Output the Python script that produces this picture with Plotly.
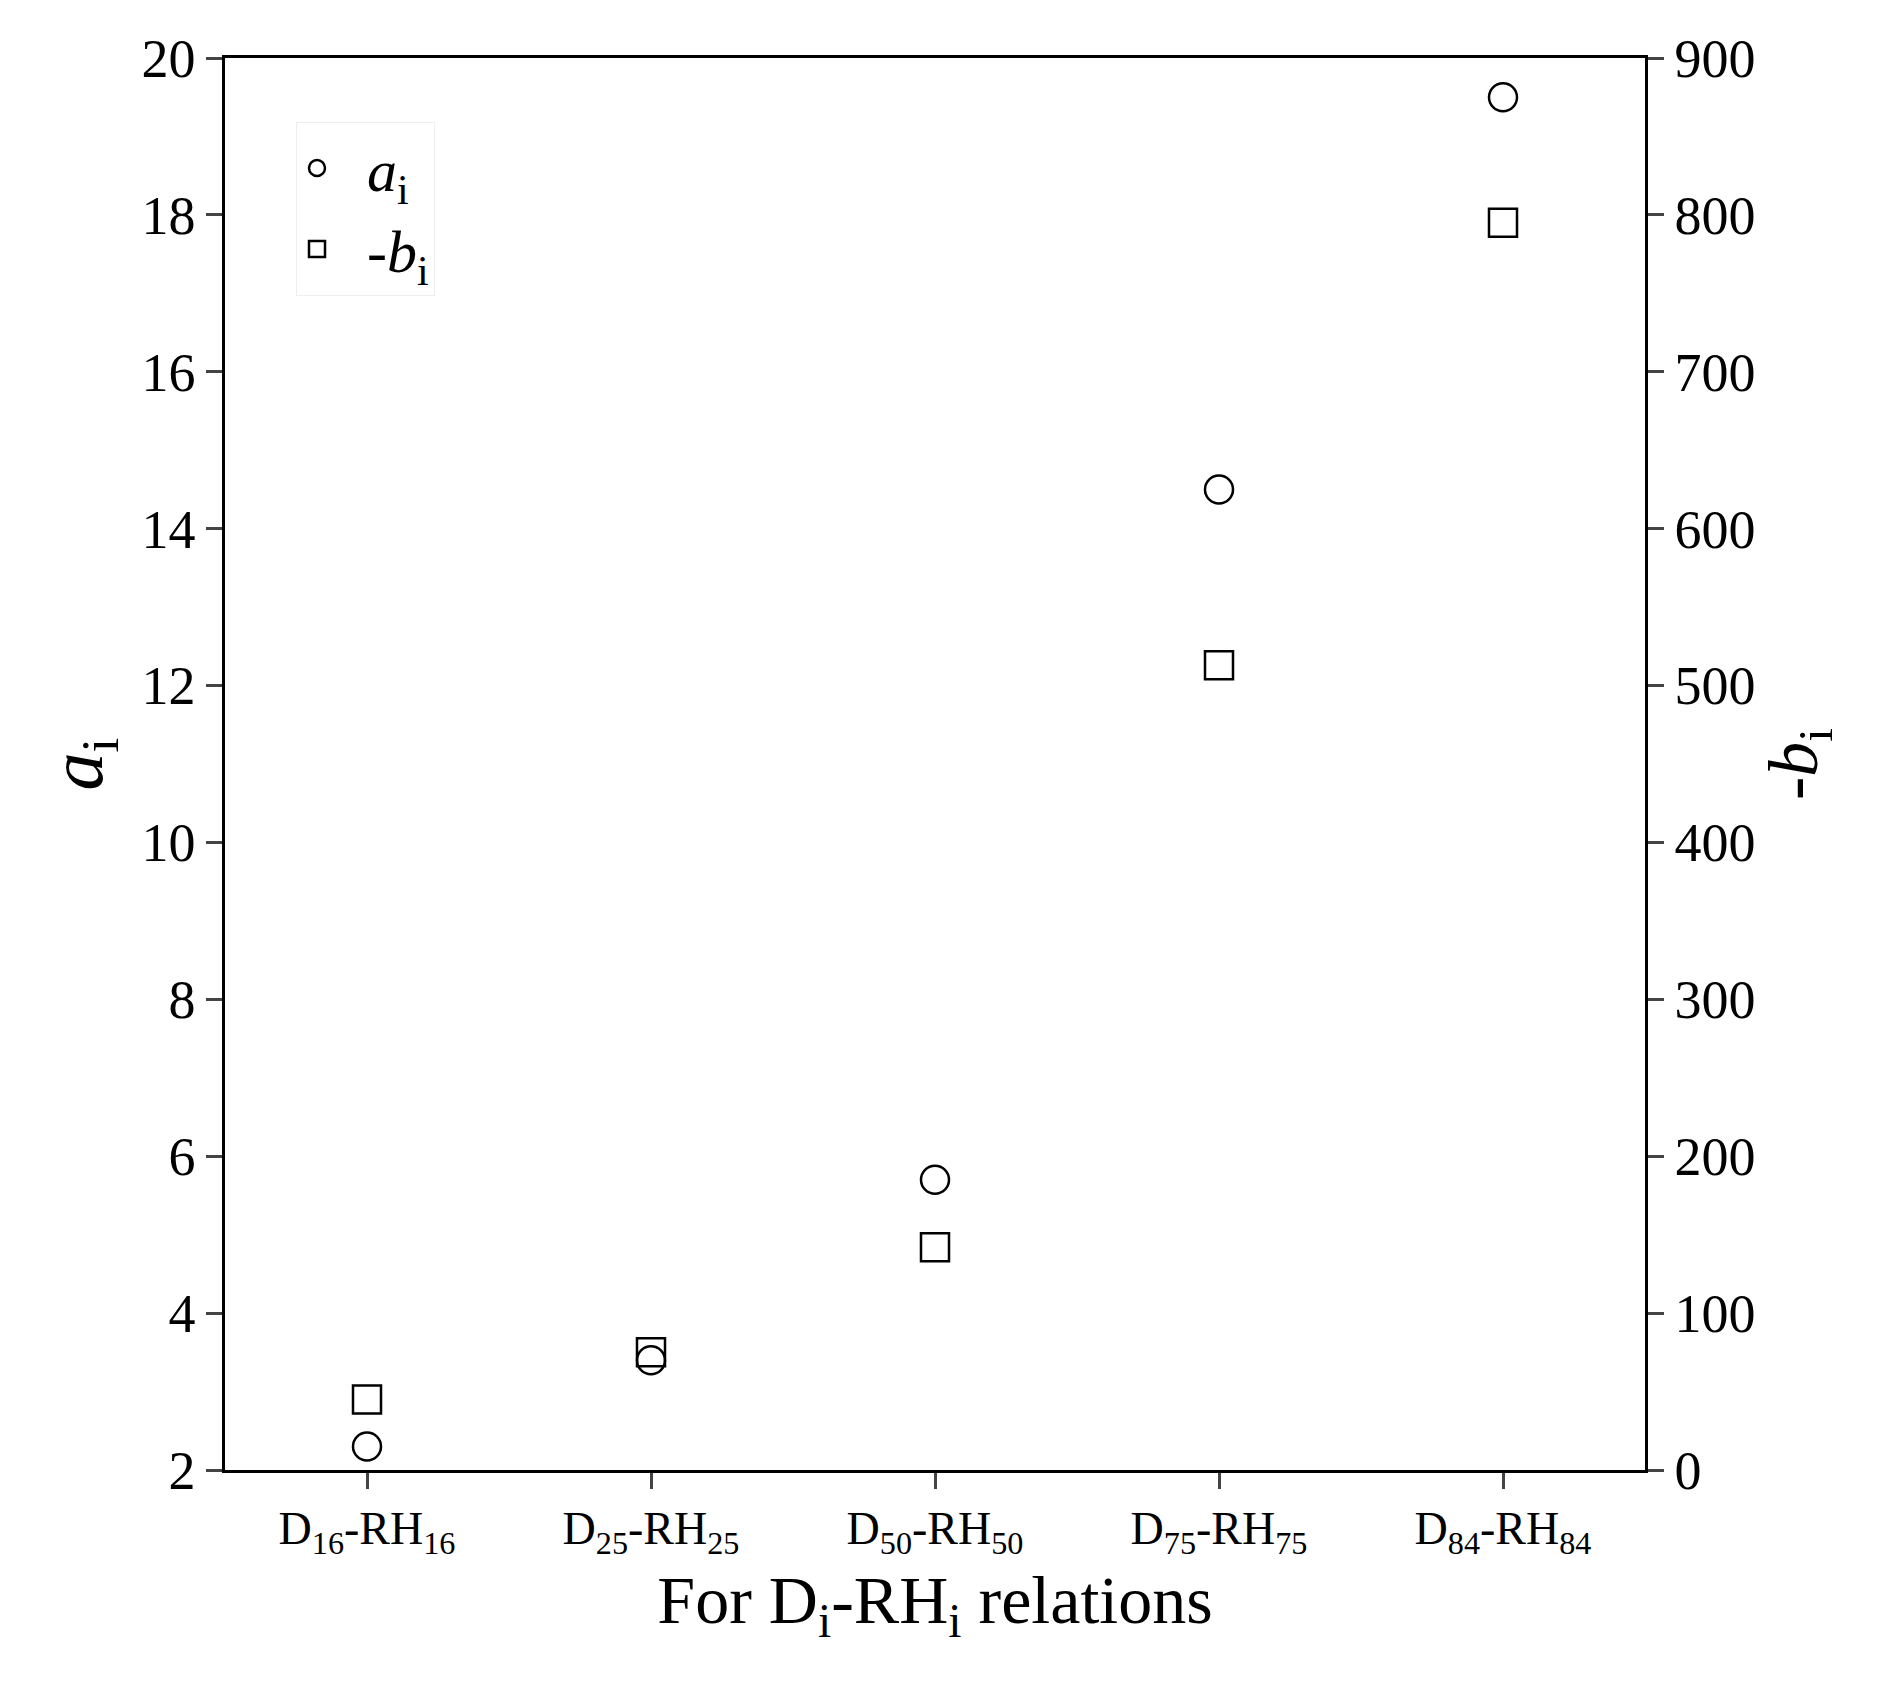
import plotly.graph_objects as go

categories = ["D<sub>16</sub>-RH<sub>16</sub>", "D<sub>25</sub>-RH<sub>25</sub>",
              "D<sub>50</sub>-RH<sub>50</sub>", "D<sub>75</sub>-RH<sub>75</sub>",
              "D<sub>84</sub>-RH<sub>84</sub>"]
a_vals = [2.3, 3.4, 5.7, 14.5, 19.5]
neg_b_vals = [45, 75, 142, 513, 795]

font = "Liberation Serif, Times New Roman, serif"
x = list(range(len(categories)))

fig = go.Figure()
fig.add_trace(go.Scatter(
    x=x, y=a_vals, mode="markers", name="  <i>a</i><sub>i</sub>",
    marker=dict(symbol="circle-open", size=28, color="black", line=dict(width=2.5)),
))
fig.add_trace(go.Scatter(
    x=x, y=neg_b_vals, mode="markers", name="  -<i>b</i><sub>i</sub>", yaxis="y2",
    marker=dict(symbol="square-open", size=28, color="black", line=dict(width=2.5)),
))

fig.update_layout(
    width=1884, height=1684,
    plot_bgcolor="white", paper_bgcolor="white",
    font=dict(family=font, size=54, color="black"),
    margin=dict(l=217, r=247, t=50, b=222),
    xaxis=dict(
        range=[-0.5, 4.5], tickvals=x, ticktext=categories,
        ticks="outside", ticklen=16, tickwidth=2.5, showgrid=False,
        showline=True, linewidth=2.5, linecolor="black", mirror=True,
        tickfont=dict(size=46),
        title=dict(text="For D<sub>i</sub>-RH<sub>i</sub> relations", font=dict(size=68), standoff=16),
    ),
    yaxis=dict(
        range=[2, 20], dtick=2, ticks="outside", ticklen=16, tickwidth=2.5,
        showgrid=False, showline=True, linewidth=2.5, linecolor="black", zeroline=False,
        title=dict(text="<i>a</i><sub>i</sub>", font=dict(size=76), standoff=14),
    ),
    yaxis2=dict(
        range=[0, 900], dtick=100, overlaying="y", side="right",
        ticks="outside", ticklen=16, tickwidth=2.5, showgrid=False,
        showline=True, linewidth=2.5, linecolor="black", zeroline=False,
        title=dict(text="-<i>b</i><sub>i</sub>", font=dict(size=70), standoff=14),
    ),
    legend=dict(
        x=0.05, y=0.955, xanchor="left", yanchor="top",
        bgcolor="white", bordercolor="#eeeeee", borderwidth=1,
        font=dict(size=60), itemsizing="trace", tracegroupgap=30,
        entrywidth=180,
    ),
)

fig.write_html("out.html")
